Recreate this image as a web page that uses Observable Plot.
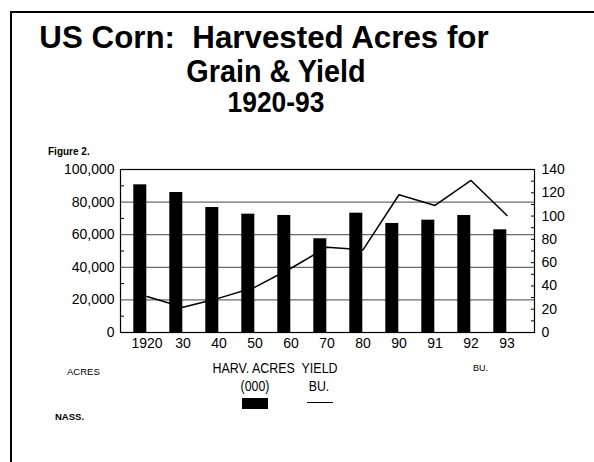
<!DOCTYPE html>
<html>
<head>
<meta charset="utf-8">
<script src="https://cdn.jsdelivr.net/npm/d3@7"></script>
<script src="https://cdn.jsdelivr.net/npm/@observablehq/plot@0.6"></script>
<style>
  html, body { margin: 0; padding: 0; background: #fff; }
  body { width: 594px; height: 462px; overflow: hidden; position: relative; font-family: "Liberation Sans", Arial, sans-serif; color: #000; }
  #frameTop { position: absolute; left: 10px; top: 11px; width: 584px; height: 2px; background: #000; z-index: 5; }
  #frameLeft { position: absolute; left: 10px; top: 11px; width: 2px; height: 451px; background: #000; z-index: 5; }
  .t { position: absolute; line-height: 1; white-space: pre; }
  #chart { position: absolute; left: 0; top: 0; }
</style>
</head>
<body>
<div id="chart"></div>
<div id="frameTop"></div>
<div id="frameLeft"></div>
<script>
// ---- data ----
const years = ["1920", "30", "40", "50", "60", "70", "80", "90", "91", "92", "93"];
const acres = [90600, 85900, 76700, 72600, 71800, 57500, 73200, 66900, 68900, 71800, 63000]; // harvested acres (000)
const yieldBu = [30.9, 21.7, 29.5, 38.9, 55.2, 73.3, 71.0, 118.3, 109.1, 130.6, 100.5]; // bushels per acre
const leftTicks = [0, 20000, 40000, 60000, 80000, 100000];
const leftMinor = [10000, 30000, 50000, 70000, 90000];
const gridTicks = [20000, 40000, 60000, 80000];
const rightTicks = [0, 20, 40, 60, 80, 100, 120, 140];
const rightMinor = [0, 10, 20, 30, 40, 50, 60, 70, 80, 90, 100, 110, 120, 130, 140];

const yMax = 100000, rMax = 140;
const toY = v => v / rMax * yMax;
const data = years.map((yr, i) => ({year: yr, acres: acres[i], yieldY: toY(yieldBu[i])}));

const chart = Plot.plot({
  width: 594,
  height: 462,
  marginLeft: 120,
  marginRight: 60,
  marginTop: 169,
  marginBottom: 130,
  style: {fontFamily: "'Liberation Sans', Arial, sans-serif", fontSize: "14px", color: "#000", background: "transparent", overflow: "visible"},
  x: {type: "band", domain: years, paddingInner: 0.627, paddingOuter: 0.53, label: null, axis: null},
  y: {domain: [0, yMax], label: null, axis: null},
  marks: [
    Plot.ruleY(gridTicks, {stroke: "#6a6a6a", strokeWidth: 1.2}),
    Plot.barY(data, {x: "year", y: "acres", fill: "#000", dx: -6.7}),
    Plot.line(data, {x: "year", y: "yieldY", stroke: "#000", strokeWidth: 1.5}),
    Plot.frame({stroke: "#000", strokeWidth: 1.2}),
    Plot.axisY(leftTicks, {anchor: "left", tickFormat: d3.format(","), tickSize: 0, tickPadding: 6, label: null}),
    Plot.axisY(leftMinor, {anchor: "left", tickSize: 4, dx: 4, fill: "none", tickFormat: () => "", label: null}),
    Plot.axisY(rightTicks.map(toY), {anchor: "right", tickFormat: d => String(Math.round(d / yMax * rMax)), tickSize: 0, tickPadding: 7, label: null}),
    Plot.axisY(rightMinor.map(toY), {anchor: "right", tickSize: 4, dx: -4, fill: "none", tickFormat: () => "", label: null}),
    Plot.axisX({anchor: "bottom", tickSize: 0, tickPadding: 6, label: null})
  ]
});
document.getElementById("chart").appendChild(chart);

// ---- text (title, notes, legend) ----
function addText(txt, x, baseline, size, opts = {}) {
  const el = document.createElement("div");
  el.className = "t";
  el.textContent = txt;
  el.style.fontSize = size + "px";
  el.style.fontWeight = opts.bold ? "bold" : "normal";
  el.style.left = x + "px";
  el.style.top = (baseline - 0.8465 * size) + "px";
  const sx = opts.sx || 1;
  el.style.transformOrigin = "0 50%";
  el.style.transform = (opts.center ? "scaleX(" + sx + ") translateX(-50%)" : "scaleX(" + sx + ")");
  document.body.appendChild(el);
  return el;
}
addText("US Corn:  Harvested Acres for", 263.5, 48, 32, {bold: true, center: true, sx: 0.978});
addText("Grain & Yield", 275.5, 81.7, 32, {bold: true, center: true, sx: 0.9});
addText("1920-93", 275.5, 112.7, 30, {bold: true, center: true, sx: 0.88});
addText("Figure 2.", 48, 155, 10, {bold: true});
addText("ACRES", 67, 375.5, 9.5);
addText("BU.", 473, 371.7, 9);
addText("HARV. ACRES  YIELD", 275, 373.3, 14, {center: true, sx: 0.89});
addText("(000)", 254.5, 391, 14, {center: true, sx: 0.88});
addText("BU.", 319, 391, 14, {center: true, sx: 0.88});
addText("NASS.", 55, 420, 9.5, {bold: true});

// legend swatches
const sw = document.createElement("div");
sw.style.cssText = "position:absolute;left:242px;top:398px;width:26px;height:11px;background:#000;";
document.body.appendChild(sw);
const ln = document.createElement("div");
ln.style.cssText = "position:absolute;left:307px;top:402px;width:26px;height:0;border-top:1.3px solid #000;";
document.body.appendChild(ln);
</script>
</body>
</html>
